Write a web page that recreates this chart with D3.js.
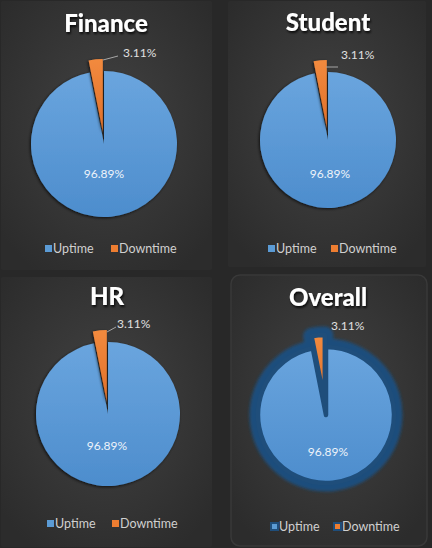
<!DOCTYPE html>
<html>
<head>
<meta charset="utf-8">
<script src="https://cdn.jsdelivr.net/npm/d3@7"></script>
<style>
  html, body { margin: 0; padding: 0; background: #282828; }
  svg { display: block; }
</style>
</head>
<body>
<svg id="chart" width="432" height="548"></svg>
<script>
// ---- data ----
const panelTitles = ["Finance", "Student", "HR", "Overall"];
const categories = ["Uptime", "Downtime"];
const uptimeValues = [96.89, 96.89, 96.89, 96.89];
const downtimeValues = [3.11, 3.11, 3.11, 3.11];
const seriesColors = ["#5b9bd5", "#ed7d31"];

// ---- layout (positions only) ----
const layout = [
  { px: 1, py: 1, pw: 211, ph: 269, cx: 104, cy: 144, r: 73, title: [106, 32], inLbl: [104, 178], outLbl: [123, 57], leader: [[103, 60], [118, 56]], legend: [45, 249], legGap: 66 },
  { px: 228, py: 1, pw: 198, ph: 266, cx: 328, cy: 140, r: 68, title: [328, 31], inLbl: [330, 178], outLbl: [341, 59], leader: [[326, 67], [338, 67]], legend: [268, 249], legGap: 63 },
  { px: 1, py: 277, pw: 211, ph: 270, cx: 108, cy: 414, r: 72, title: [107, 305], inLbl: [107, 450], outLbl: [117, 328], leader: [[107, 332], [116, 327]], legend: [47, 524], legGap: 65 },
  { px: 231, py: 275, pw: 196, ph: 271, cx: 326, cy: 415, r: 68, title: [328, 306], inLbl: [328, 456], outLbl: [331, 330], leader: null, legend: [271, 527], legGap: 63, overall: true }
];

const svg = d3.select("#chart");
const defs = svg.append("defs");

const rg = defs.append("radialGradient").attr("id", "panelBg").attr("cx", "50%").attr("cy", "45%").attr("r", "65%");
rg.append("stop").attr("offset", "0%").attr("stop-color", "#424242");
rg.append("stop").attr("offset", "100%").attr("stop-color", "#2c2c2c");

const bg = defs.append("linearGradient").attr("id", "blueGrad").attr("x1", 0).attr("y1", 0).attr("x2", 0).attr("y2", 1);
bg.append("stop").attr("offset", "0%").attr("stop-color", "#6aa5de");
bg.append("stop").attr("offset", "100%").attr("stop-color", "#4d8dcd");

const og = defs.append("linearGradient").attr("id", "orangeGrad").attr("x1", 0).attr("y1", 0).attr("x2", 0).attr("y2", 1);
og.append("stop").attr("offset", "0%").attr("stop-color", "#f28a3e");
og.append("stop").attr("offset", "100%").attr("stop-color", "#e0702a");

const sh = defs.append("filter").attr("id", "titleShadow").attr("x", "-20%").attr("y", "-20%").attr("width", "140%").attr("height", "160%");
sh.append("feDropShadow").attr("dx", 1).attr("dy", 2).attr("stdDeviation", 1.2).attr("flood-color", "#000").attr("flood-opacity", 0.8);

const pieShadow = defs.append("filter").attr("id", "pieShadow").attr("x", "-20%").attr("y", "-20%").attr("width", "140%").attr("height", "140%");
pieShadow.append("feDropShadow").attr("dx", -1).attr("dy", 1).attr("stdDeviation", 1.5).attr("flood-color", "#000").attr("flood-opacity", 0.7);

const glow = defs.append("filter").attr("id", "glow").attr("x", "-30%").attr("y", "-30%").attr("width", "160%").attr("height", "160%");
glow.append("feGaussianBlur").attr("stdDeviation", 1.4);

const color = d3.scaleOrdinal().domain(categories).range(seriesColors);
const fillFor = d3.scaleOrdinal().domain(categories).range(["url(#blueGrad)", "url(#orangeGrad)"]);
const pie = d3.pie().sort(null).value(d => d.value).startAngle(0).endAngle(2 * Math.PI);
const fmt = v => d3.format(".2f")(v) + "%";

panelTitles.forEach((title, i) => {
  const L = layout[i];
  const g = svg.append("g");

  // panel background
  g.append("rect")
    .attr("x", L.px).attr("y", L.py).attr("width", L.pw).attr("height", L.ph)
    .attr("rx", L.overall ? 9 : 2)
    .attr("fill", "url(#panelBg)")
    .attr("stroke", L.overall ? "#393939" : "none")
    .attr("stroke-width", L.overall ? 1.5 : 0);

  // title
  g.append("text")
    .attr("x", L.title[0]).attr("y", L.title[1])
    .attr("text-anchor", "middle")
    .attr("font-family", "Lato, 'Open Sans', sans-serif")
    .attr("font-weight", 900)
    .attr("font-size", 24)
    .attr("fill", "#ffffff")
    .attr("filter", "url(#titleShadow)")
    .text(title);

  const data = categories.map((c, k) => ({ cat: c, value: k === 0 ? uptimeValues[i] : downtimeValues[i] }));
  const arcs = pie(data);
  const arc = d3.arc().innerRadius(0).outerRadius(L.r);
  const explode = 12;
  const offset = a => {
    if (a.data.cat !== "Downtime") return [0, 0];
    const mid = (a.startAngle + a.endAngle) / 2;
    return [Math.sin(mid) * explode, -Math.cos(mid) * explode];
  };

  const pg = g.append("g").attr("transform", `translate(${L.cx},${L.cy})`);

  if (L.overall) {
    // thick dark-blue border with soft glow
    const ring = pg.append("g").attr("filter", "url(#glow)");
    ring.selectAll("path").data(arcs).join("path")
      .attr("transform", d => `translate(${offset(d)})`)
      .attr("d", arc)
      .attr("fill", "#1f4e7b")
      .attr("stroke", "#1f4e7b")
      .attr("stroke-width", 17)
      .attr("stroke-linejoin", "round");
    pg.selectAll("path.slice").data(arcs).join("path")
      .attr("class", "slice")
      .attr("transform", d => `translate(${offset(d)})`)
      .attr("d", arc)
      .attr("fill", d => fillFor(d.data.cat))
      .attr("stroke", "#1f4e7b")
      .attr("stroke-width", 4.5)
      .attr("stroke-linejoin", "round");
  } else {
    pg.selectAll("path.slice").data(arcs).join("path")
      .attr("class", "slice")
      .attr("transform", d => `translate(${offset(d)})`)
      .attr("d", arc)
      .attr("fill", d => fillFor(d.data.cat))
      .attr("filter", "url(#pieShadow)");
  }

  // inside label (Uptime)
  const up = arcs[0];
  g.append("text")
    .attr("x", L.inLbl[0]).attr("y", L.inLbl[1])
    .attr("text-anchor", "middle")
    .attr("font-family", "Lato, sans-serif")
    .attr("font-size", 12)
    .attr("fill", "#eef3fa")
    .text(fmt(up.data.value));

  // outside label (Downtime) with leader
  const down = arcs[1];
  if (L.leader) {
    g.append("polyline")
      .attr("points", L.leader.map(p => p.join(",")).join(" "))
      .attr("fill", "none")
      .attr("stroke", "#a6a6a6")
      .attr("stroke-width", 1);
  }
  g.append("text")
    .attr("x", L.outLbl[0]).attr("y", L.outLbl[1])
    .attr("font-family", "Lato, sans-serif")
    .attr("font-size", 12)
    .attr("fill", "#e0e0e0")
    .text(fmt(down.data.value));

  // legend
  const lg = g.append("g").attr("transform", `translate(${L.legend[0]},${L.legend[1]})`);
  const items = lg.selectAll("g").data(categories).join("g")
    .attr("transform", (d, k) => `translate(${k * L.legGap},0)`);
  items.append("rect")
    .attr("x", 0).attr("y", -4).attr("width", 7).attr("height", 7)
    .attr("fill", d => color(d))
    .attr("stroke", L.overall ? "#1f4e7b" : "none")
    .attr("stroke-width", L.overall ? 2 : 0);
  items.append("text")
    .attr("x", 8).attr("y", 4)
    .attr("font-family", "Lato, sans-serif")
    .attr("font-size", 12.5)
    .attr("fill", "#d0d0d0")
    .text(d => d);
});
</script>
</body>
</html>
